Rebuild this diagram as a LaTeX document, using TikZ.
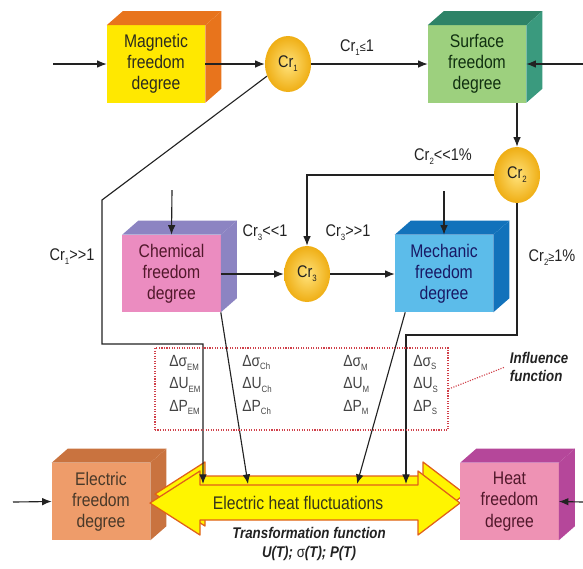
\documentclass[tikz,border=0pt]{standalone}
\usepackage{fontspec}
\setmainfont{Liberation Sans}[FakeStretch=0.86]
\usepackage{tikz}
\usetikzlibrary{arrows.meta, positioning, shapes.geometric, calc}
\definecolor{Ink}{HTML}{222222}
\definecolor{MagFront}{HTML}{FFE800}
\definecolor{MagTop}{HTML}{E8741C}
\definecolor{SurfFront}{HTML}{9DD07E}
\definecolor{SurfTop}{HTML}{2E8367}
\definecolor{SurfSide}{HTML}{3A9A7E}
\definecolor{ChemFront}{HTML}{EB8CC0}
\definecolor{ChemTop}{HTML}{8C84C2}
\definecolor{MechFront}{HTML}{5CBCEA}
\definecolor{MechTop}{HTML}{1272BB}
\definecolor{ElecFront}{HTML}{EE9C6A}
\definecolor{ElecTop}{HTML}{C9733F}
\definecolor{HeatFront}{HTML}{EE92B4}
\definecolor{HeatTop}{HTML}{B5479A}
\definecolor{CrIn}{HTML}{FFE27A}
\definecolor{CrOut}{HTML}{EFAE14}
\definecolor{Flux}{HTML}{FFF500}
\definecolor{FluxLine}{HTML}{E0601A}
\definecolor{Dots}{HTML}{D0404A}

% top and side faces of a degree box
\newcommand{\extrudebox}[3]{%
  \fill[#2] (#1.north west) -- (#1.north east) -- ([shift={(16,-14)}]#1.north east) -- ([shift={(16,-14)}]#1.north west) -- cycle;
  \fill[#3] (#1.north east) -- ([shift={(16,-14)}]#1.north east) -- ([shift={(16,-14)}]#1.south east) -- (#1.south east) -- cycle;
}
% small index
\newcommand{\idx}[1]{\raisebox{-0.45ex}{\fontsize{6.5}{7}\selectfont #1}}
\newcommand{\muchgt}{>\kern0pt>}
\newcommand{\muchlt}{<\kern0pt<}

\begin{document}
\begin{tikzpicture}[
  x=0.025cm, y=-0.025cm,
  font=\fontsize{12}{14}\selectfont,
  degree/.style={minimum width=2.45cm, minimum height=1.925cm, inner sep=0pt, align=center, font=\fontsize{13}{15}\selectfont},
  crit/.style={ellipse, minimum width=1.15cm, minimum height=1.4cm, inner sep=0pt, inner color=CrIn, outer color=CrOut, text=Ink},
  lbl/.style={text=Ink, inner sep=1pt},
  delta/.style={align=left, anchor=west, text=Ink!85, font=\fontsize{11.5}{16}\selectfont, inner sep=0pt},
  arrow/.style={-{Latex[length=2.4mm, width=1.9mm]}, line width=0.8pt, draw=Ink},
  wave/.style={fill=Flux, draw=FluxLine, line width=0.9pt, line join=round},
  infbox/.style={draw=Dots, densely dotted, line width=0.8pt, minimum width=7.325cm, minimum height=2.05cm},
  note/.style={font=\fontsize{11}{13}\selectfont\bfseries\itshape, text=Ink, align=left}
]
\useasboundingbox (0,0) rectangle (583,568);

\node[degree, fill=MagFront, text=Ink!90!olive] (mag) at (156,64) {Magnetic\\freedom\\degree};
\extrudebox{mag}{MagTop}{MagTop}
\node[degree, fill=SurfFront, text=Ink!80!green!60!black] (surf) at (477,64) {Surface\\freedom\\degree};
\extrudebox{surf}{SurfTop}{SurfSide}
\node[degree, fill=ChemFront, text=Ink!70!purple] (chem) at (171.5,273.5) {Chemical\\freedom\\degree};
\extrudebox{chem}{ChemTop}{ChemTop}
\node[degree, fill=MechFront, text=Ink!70!blue] (mech) at (444,273.5) {Mechanic\\freedom\\degree};
\extrudebox{mech}{MechTop}{MechTop}

\node[crit] (cr1) at (288,64) {Cr\idx{1}};
\node[crit] (cr2) at (517,175) {Cr\idx{2}};
\node[crit] (cr3) at (307,274) {Cr\idx{3}};

\node[degree, fill=ElecFront, text=Ink!75!brown] (elec) at (101,501.5) {Electric\\freedom\\degree};
\extrudebox{elec}{ElecTop}{ElecTop}

\filldraw[wave, shift={(5,-9)}] (150,503) -- (200,471) -- (200,485) -- (418,485) -- (418,471) -- (460,503) -- (418,535) -- (418,520) -- (200,520) -- (200,535) -- cycle;
\filldraw[wave] (150,503) -- (200,471) -- (200,485) -- (418,485) -- (418,471) -- (460,503) -- (418,535) -- (418,520) -- (200,520) -- (200,535) -- cycle;
\node[text=Ink!80!olive, font=\fontsize{13}{15}\selectfont] (fluct) at (298,503) {Electric heat fluctuations};

\node[degree, fill=HeatFront, text=Ink!70!purple] (heat) at (509.5,501.5) {Heat\\freedom\\degree};
\extrudebox{heat}{HeatTop}{HeatTop}

\coordinate (magin) at (53,64);
\coordinate (surfin) at (583,64);
\coordinate (chemin) at (172,190);
\coordinate (mechin) at (444,191);
\coordinate (elecin) at (13,502);
\coordinate (heatin) at (583,502);
\coordinate (em) at (203,484);
\coordinate (ch) at (248,484);
\coordinate (me) at (357,484);
\coordinate (su) at (406,484);

\draw[arrow] (magin) -- (mag.west);
\draw[arrow] (mag.east) -- (cr1.west);
\draw[arrow] (cr1.east) -- (surf.west);
\draw[arrow] (surfin) -- (surf.east);
\draw[arrow] (surf.south -| cr2.north) -- (cr2.north);
\draw[arrow] (cr2.west) -| (cr3.north);
\draw[arrow] (chemin) -- (chem.north);
\draw[arrow] (mechin) -- (mech.north);
\draw[arrow] (chem.east |- cr3.west) -- (cr3.west);
\draw[arrow] (cr3.east) -- (mech.west |- cr3.east);
\draw[arrow] (cr1.210) -- (102,200) -- (102,344) -- (203,344) -- (em);
\draw[arrow] (chem.south east) -- (ch);
\draw[arrow] (mech.-135) -- (me);
\draw[arrow] (cr2.south) |- (406,335) -- (su);
\draw[arrow] (elecin) -- (elec.west);
\draw[arrow] (heatin) -- (heat.east);

\node[lbl] (l1) at (357,48) {Cr\idx{1}{\fontsize{9}{9}\selectfont ≤}1};
\node[lbl] (l2) at (72,257) {Cr\idx{1}\muchgt1};
\node[lbl] (l3) at (443,157) {Cr\idx{2}\muchlt1\%};
\node[lbl] (l4) at (265,233) {Cr\idx{3}\muchlt1};
\node[lbl] (l5) at (348,233) {Cr\idx{3}\muchgt1};
\node[lbl] (l6) at (552,258) {Cr\idx{2}{\fontsize{9}{9}\selectfont ≥}1\%};

\node[infbox] (inf) at (301.5,389) {};
\node[delta] (dem) at (169,385) {Δσ\idx{EM}\\ΔU\idx{EM}\\ΔP\idx{EM}};
\node[delta] (dch) at (242,385) {Δσ\idx{Ch}\\ΔU\idx{Ch}\\ΔP\idx{Ch}};
\node[delta] (dm) at (343,385) {Δσ\idx{M}\\ΔU\idx{M}\\ΔP\idx{M}};
\node[delta] (ds) at (413,385) {Δσ\idx{S}\\ΔU\idx{S}\\ΔP\idx{S}};
\node[note, anchor=west] (infl) at (505,367) {Influence\\function};
\draw[draw=Dots, densely dotted, line width=0.8pt] (inf.east) -- (infl.west);

\node[note, align=center] (trans) at (309,544) {Transformation function\\U(T); {\mdseries\upshape σ}(T); P(T)};
\end{tikzpicture}
\end{document}
